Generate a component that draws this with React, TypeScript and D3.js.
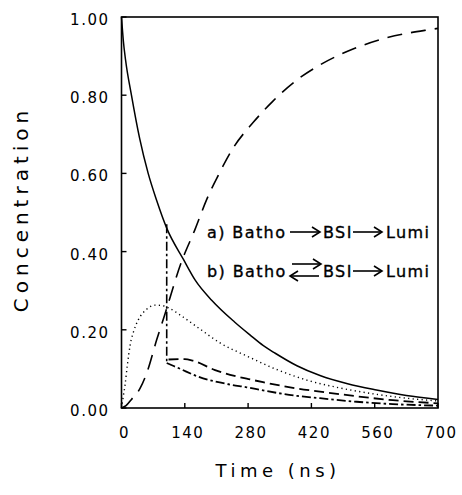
import React, { useEffect, useRef } from 'react';
import * as d3 from 'd3';

// values: [time (ns), concentration]
const timeTicks = [0, 140, 280, 420, 560, 700];
const concTicks = [0, 0.2, 0.4, 0.6, 0.8, 1.0];

const bathoA = [
  [0, 1.0], [4, 0.94], [9, 0.89], [22, 0.80], [40, 0.69], [59, 0.60], [78, 0.53],
  [100, 0.46], [137, 0.38], [163, 0.327], [200, 0.275], [250, 0.22], [284, 0.187],
  [313, 0.16], [340, 0.14], [388, 0.108], [439, 0.083], [500, 0.062], [564, 0.046],
  [630, 0.032], [700, 0.022],
];

const bsiA = [
  [0, 0], [4, 0.03], [8, 0.06], [13, 0.11], [19, 0.16], [28, 0.2], [37, 0.225],
  [55, 0.252], [74, 0.263], [90, 0.262], [104, 0.256], [137, 0.232], [170, 0.205],
  [220, 0.165], [277, 0.133], [340, 0.1], [420, 0.068], [480, 0.052], [564, 0.035],
  [630, 0.025], [700, 0.018],
];

const lumiA = [
  [0, 0], [10, 0.006], [22, 0.022], [41, 0.05], [56, 0.09], [78, 0.175], [96, 0.24],
  [133, 0.375], [162, 0.455], [189, 0.535], [214, 0.595], [247, 0.665], [291, 0.73],
  [335, 0.785], [395, 0.845], [446, 0.882], [512, 0.918], [587, 0.947], [683, 0.968],
  [700, 0.971],
];

const bathoBDrop = [[100, 0.47], [100, 0.115]];
const bathoB = [
  [100, 0.115], [130, 0.1], [170, 0.08], [240, 0.06], [277, 0.053], [313, 0.045],
  [388, 0.031], [439, 0.025], [520, 0.016], [600, 0.01], [700, 0.006],
];

const bsiB = [
  [104, 0.124], [140, 0.125], [158, 0.121], [207, 0.097], [250, 0.082], [277, 0.075],
  [313, 0.066], [388, 0.05], [439, 0.042], [520, 0.03], [600, 0.02], [700, 0.012],
];

const W = 462;
const H = 495;
const margin = { left: 121.5, right: 24, top: 17, bottom: 87 };

function Chart() {
  const ref = useRef<SVGSVGElement | null>(null);

  useEffect(() => {
    const svg = d3.select(ref.current);
    svg.selectAll('*').remove();

    const x = d3.scaleLinear().domain([0, 700]).range([margin.left, W - margin.right]);
    const y = d3.scaleLinear().domain([0, 1]).range([H - margin.bottom, margin.top]);

    const line = d3.line<number[]>()
      .x(d => x(d[0]))
      .y(d => y(d[1]))
      .curve(d3.curveMonotoneX);

    const straight = d3.line<number[]>()
      .x(d => x(d[0]))
      .y(d => y(d[1]));

    const font = '"DejaVu Sans", sans-serif';

    // frame
    svg.append('rect')
      .attr('x', x(0)).attr('y', y(1))
      .attr('width', x(700) - x(0)).attr('height', y(0) - y(1))
      .attr('fill', 'none').attr('stroke', '#000').attr('stroke-width', 1.6);

    // ticks (inside)
    svg.append('g').selectAll('line').data(concTicks).enter().append('line')
      .attr('x1', x(0)).attr('x2', x(0) + 5)
      .attr('y1', d => y(d)).attr('y2', d => y(d))
      .attr('stroke', '#000').attr('stroke-width', 1.4);

    svg.append('g').selectAll('line').data(timeTicks).enter().append('line')
      .attr('x1', d => x(d)).attr('x2', d => x(d))
      .attr('y1', y(0)).attr('y2', y(0) - 5)
      .attr('stroke', '#000').attr('stroke-width', 1.4);

    // tick labels
    svg.append('g').selectAll('text').data(concTicks).enter().append('text')
      .attr('x', x(0) - 12)
      .attr('y', d => y(d) + 8)
      .attr('text-anchor', 'end')
      .style('font-family', font).style('font-size', '15px').style('letter-spacing', '1.5px')
      .text(d => d.toFixed(2));

    svg.append('g').selectAll('text').data(timeTicks).enter().append('text')
      .attr('x', d => x(d) + 3)
      .attr('y', y(0) + 30)
      .attr('text-anchor', 'middle')
      .style('font-family', font).style('font-size', '15px').style('letter-spacing', '1.5px')
      .text(d => String(d));

    // axis titles
    svg.append('text')
      .attr('x', 278).attr('y', 477)
      .attr('text-anchor', 'middle')
      .style('font-family', font).style('font-size', '18px').style('letter-spacing', '4.5px')
      .text('Time (ns)');

    svg.append('text')
      .attr('transform', 'translate(28, 209) rotate(-90)')
      .attr('text-anchor', 'middle')
      .style('font-family', font).style('font-size', '20px').style('letter-spacing', '5px')
      .text('Concentration');

    // curves
    const draw = (data: number[][], dash: string | null, width: number, gen = line) => {
      const p = svg.append('path')
        .attr('d', gen(data as any))
        .attr('fill', 'none')
        .attr('stroke', '#000')
        .attr('stroke-width', width);
      if (dash) p.attr('stroke-dasharray', dash);
    };

    draw(bathoA, null, 1.5);
    draw(bsiA, '1.2,3.3', 1.4);
    draw(lumiA, '15,9', 1.6);
    draw(bathoBDrop, '9,3,2.5,3', 1.6, straight);
    draw(bathoB, '9,3,2.5,3', 1.8);
    draw(bsiB, '10,5', 1.8);

    // legend
    const lg = svg.append('g')
      .style('font-family', font).style('font-size', '16px').style('letter-spacing', '1.4px')
      .attr('stroke', '#000').attr('stroke-width', 0.35);

    const arrow = (x1: number, x2: number, yy: number, dir: number) => {
      const tip = dir > 0 ? x2 : x1;
      lg.append('line').attr('x1', x1).attr('x2', x2).attr('y1', yy).attr('y2', yy)
        .attr('stroke-width', 1.6);
      lg.append('path')
        .attr('d', `M${tip - dir * 8},${yy - 5}L${tip},${yy}L${tip - dir * 8},${yy + 5}`)
        .attr('fill', 'none').attr('stroke-width', 1.6);
    };

    lg.append('text').attr('x', 207).attr('y', 238).text('a) Batho');
    arrow(290, 320, 232, 1);
    lg.append('text').attr('x', 323).attr('y', 238).text('BSI');
    arrow(353, 382, 232, 1);
    lg.append('text').attr('x', 386).attr('y', 238).text('Lumi');

    lg.append('text').attr('x', 207).attr('y', 277).text('b) Batho');
    arrow(292, 321, 264, 1);
    arrow(290, 319, 276, -1);
    lg.append('text').attr('x', 323).attr('y', 277).text('BSI');
    arrow(353, 382, 271, 1);
    lg.append('text').attr('x', 386).attr('y', 277).text('Lumi');
  }, []);

  return (
    <svg
      ref={ref}
      width={W}
      height={H}
      style={{ position: 'absolute', left: 0, top: 0, background: '#fff' }}
    />
  );
}

export default function App() {
  return <Chart />;
}
